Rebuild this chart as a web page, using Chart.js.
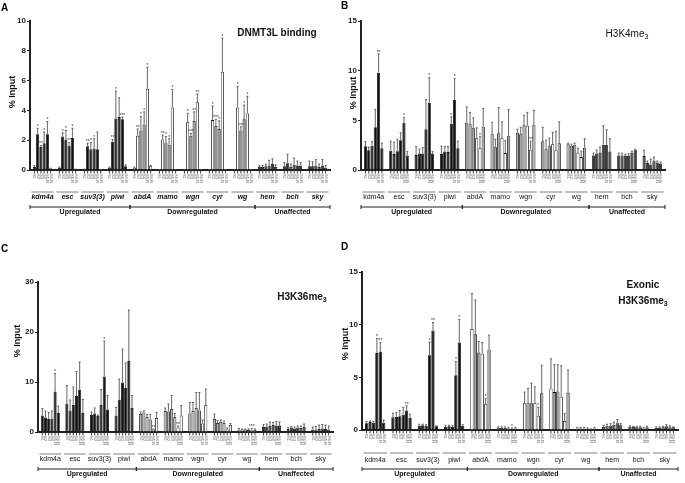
<!DOCTYPE html>
<html>
<head>
<meta charset="utf-8">
<script src="https://cdn.jsdelivr.net/npm/chart.js@4.4.1/dist/chart.umd.min.js"></script>
<style>
    html, body { margin: 0; padding: 0; background: #fff; }
    #wrap { position: relative; width: 685px; height: 483px; overflow: hidden; }
    .panel { position: absolute; }
</style>
</head>
<body>
<div id="wrap">
    <div class="panel" style="left:0;top:0;width:340px;height:240px"><canvas id="pA"></canvas></div>
    <div class="panel" style="left:340px;top:0;width:345px;height:240px"><canvas id="pB"></canvas></div>
    <div class="panel" style="left:0;top:240px;width:340px;height:243px"><canvas id="pC"></canvas></div>
    <div class="panel" style="left:340px;top:240px;width:345px;height:243px"><canvas id="pD"></canvas></div>
</div>
<script>
// -----------------------
// data
// -----------------------
const genes = ["kdm4a", "esc", "suv3(3)", "piwi", "abdA", "mamo", "wgn", "cyr", "wg", "hem", "bch", "sky"];
const sampleLabels = ["S1", "S2", "S3", "S4", "S5-R", "S6-R"];
const groupNames = ["Upregulated", "Downregulated", "Unaffected"];
const groupSpans = [[0, 3], [4, 8], [9, 11]];

// A: DNMT3L binding (mean, top of error bar)
const dnmt3lMean = [
    [0.2, 2.4, 1.55, 1.8, 2.4, 0.1], [0.15, 2.25, 2.05, 1.65, 2.15, 0.05],
    [0.05, 1.6, 1.4, 1.45, 1.4, 0.02], [0.15, 1.9, 3.45, 3.55, 3.4, 0.25],
    [0.15, 2.3, 2.65, 3.05, 5.45, 0.25], [0.02, 2.05, 1.85, 1.7, 4.2, 0.02],
    [0.02, 3.2, 2.3, 3.3, 4.55, 0.02], [0.02, 3.35, 2.95, 2.75, 6.6, 0.02],
    [0.02, 4.2, 2.65, 3.4, 3.8, 0.02], [0.2, 0.2, 0.25, 0.3, 0.4, 0.2],
    [0.25, 0.45, 0.2, 0.35, 0.3, 0.3], [0.25, 0.25, 0.3, 0.2, 0.3, 0.15],
];
const dnmt3lTop = [
    [0.3, 2.8, 1.65, 2.55, 3.25, 0.12], [0.2, 2.5, 2.65, 1.85, 2.8, 0.06],
    [0.06, 1.8, 1.85, 2.1, 2.55, 0.03], [0.2, 2.05, 5.3, 4.85, 3.55, 0.35],
    [0.2, 2.75, 3.6, 3.9, 6.9, 0.3], [0.03, 2.35, 2.25, 2.1, 5.4, 0.03],
    [0.03, 3.8, 2.45, 3.9, 5.1, 0.03], [0.03, 4.3, 3.4, 3.3, 8.85, 0.03],
    [0.03, 5.6, 2.9, 4.35, 4.95, 0.03], [0.3, 0.3, 0.4, 0.65, 0.75, 0.35],
    [0.5, 1.05, 0.4, 0.8, 0.6, 0.5], [0.6, 0.55, 0.7, 0.4, 0.7, 0.3],
];
const dnmt3lSig = [
    [0, 1, "*"], [0, 2, "**"], [0, 3, "*"], [0, 4, "*"],
    [1, 1, "*"], [1, 2, "*"], [1, 3, "**"], [1, 4, "*"],
    [2, 1, "**"], [2, 2, "*"], [2, 3, "*"],
    [3, 1, "**"], [3, 2, "*"], [3, 4, "***"],
    [4, 1, "**"], [4, 2, "*"], [4, 3, "*"], [4, 4, "*"],
    [5, 1, "**"], [5, 2, "*"], [5, 3, "*"], [5, 4, "*"],
    [6, 1, "*"], [6, 2, "***"], [6, 3, "**"], [6, 4, "**"],
    [7, 1, "*"], [7, 2, "***"], [7, 3, "*"], [7, 4, "*"],
    [8, 1, "*"], [8, 2, "***"], [8, 3, "*"], [8, 4, "*"],
];

// B: H3K4me3
const k4Mean = [
    [2.4, 2.0, 2.45, 4.3, 9.8, 2.2], [1.95, 1.6, 1.9, 3.0, 4.75, 1.45],
    [1.5, 1.65, 1.65, 4.1, 6.75, 1.65], [1.6, 1.85, 1.8, 4.65, 7.05, 2.2],
    [4.75, 4.6, 4.2, 3.2, 2.2, 4.35], [3.6, 2.3, 3.7, 3.2, 1.7, 3.4],
    [3.75, 3.6, 4.5, 4.45, 2.05, 4.55], [2.9, 2.1, 2.4, 2.6, 2.0, 2.7],
    [2.6, 2.45, 2.55, 1.75, 1.3, 2.25], [1.45, 1.65, 1.75, 2.55, 2.55, 1.85],
    [1.45, 1.45, 1.45, 1.45, 1.75, 2.05], [1.4, 0.7, 0.55, 0.95, 0.75, 0.65],
];
const k4Top = [
    [2.85, 2.3, 2.85, 6.1, 11.7, 2.7], [2.9, 2.8, 3.1, 3.75, 5.3, 1.85],
    [2.35, 2.1, 2.25, 7.1, 9.3, 1.85], [2.4, 2.35, 2.35, 5.35, 9.2, 2.9],
    [6.35, 5.8, 5.25, 4.25, 3.35, 6.2], [4.8, 3.1, 6.3, 4.85, 2.95, 6.1],
    [4.1, 4.3, 5.5, 5.8, 2.9, 6.0], [4.3, 3.0, 3.2, 3.8, 3.9, 4.85],
    [2.7, 2.6, 2.7, 2.2, 1.9, 3.15], [1.7, 2.0, 2.3, 4.45, 4.05, 3.15],
    [1.7, 1.7, 1.6, 1.65, 1.9, 2.1], [2.0, 0.9, 1.1, 1.3, 0.9, 0.8],
];
const k4Sig = [[0, 4, "**"], [1, 4, "*"], [2, 4, "*"], [3, 3, "*"], [3, 4, "*"], [4, 4, "*"], [6, 4, "***"]];

// C: H3K36me3
const k36Mean = [
    [3.3, 2.9, 2.6, 2.7, 8.1, 3.8], [5.7, 4.3, 5.4, 7.2, 8.5, 3.8],
    [3.4, 3.7, 3.2, 5.4, 11.1, 4.5], [3.3, 6.5, 9.9, 8.8, 14.2, 4.8],
    [3.6, 3.9, 3.0, 2.5, 0.5, 2.8], [4.2, 4.1, 4.6, 3.0, 0.9, 3.3],
    [3.7, 4.2, 4.8, 4.3, 1.7, 5.4], [2.6, 1.8, 2.0, 1.8, 0.5, 1.4],
    [0.5, 0.5, 0.5, 0.4, 0.3, 0.4], [1.0, 1.1, 1.2, 1.4, 1.3, 1.3],
    [0.6, 0.9, 0.7, 0.9, 0.8, 1.0], [0.5, 0.5, 0.6, 0.7, 0.6, 0.5],
];
const k36Top = [
    [4.7, 4.2, 3.9, 4.2, 11.7, 5.2], [9.3, 6.4, 9.0, 12.1, 14.0, 6.5],
    [4.0, 4.8, 3.4, 8.5, 18.2, 7.3], [4.9, 10.6, 16.6, 13.8, 24.4, 7.3],
    [4.0, 4.2, 3.5, 3.5, 0.6, 3.9], [4.8, 5.6, 7.3, 3.7, 1.2, 5.3],
    [5.9, 5.9, 7.9, 7.9, 2.4, 8.6], [3.6, 2.3, 2.4, 2.2, 0.8, 1.7],
    [0.7, 0.6, 0.6, 0.6, 0.7, 0.6], [1.5, 1.6, 2.0, 1.9, 2.1, 2.0],
    [0.9, 1.1, 1.0, 1.2, 1.2, 1.6], [1.0, 1.1, 1.4, 1.5, 1.4, 1.2],
];
const k36Sig = [[0, 4, "*"], [2, 4, "*"], [4, 4, "**"], [5, 4, "**"], [8, 4, "***"]];

// D: exonic H3K36me3
const exMean = [
    [0.65, 0.75, 0.7, 7.3, 7.45, 0.7], [1.2, 1.25, 1.3, 1.45, 1.85, 1.15],
    [0.4, 0.45, 0.4, 7.1, 9.45, 0.35], [0.3, 0.35, 0.3, 5.2, 8.3, 0.4],
    [9.6, 9.1, 7.35, 7.25, 2.45, 7.65], [0.2, 0.2, 0.2, 0.15, 0.05, 0.15],
    [2.55, 2.55, 2.55, 2.55, 1.35, 3.5], [3.95, 3.6, 3.65, 3.15, 0.85, 3.55],
    [0.15, 0.15, 0.15, 0.1, 0.05, 0.15], [0.3, 0.35, 0.4, 0.5, 0.65, 0.45],
    [0.3, 0.3, 0.25, 0.25, 0.15, 0.25], [0.2, 0.2, 0.25, 0.35, 0.25, 0.25],
];
const exTop = [
    [0.8, 0.85, 0.8, 8.7, 8.3, 0.95], [1.6, 1.65, 1.85, 2.15, 2.3, 1.5],
    [0.55, 0.55, 0.5, 8.35, 10.2, 0.4], [0.45, 0.45, 0.4, 6.5, 10.5, 0.5],
    [12.95, 12.35, 8.4, 8.3, 3.0, 9.0], [0.3, 0.3, 0.3, 0.25, 0.2, 0.25],
    [3.6, 3.95, 4.45, 4.1, 2.15, 6.15], [6.75, 6.2, 6.2, 6.1, 1.55, 5.7],
    [0.25, 0.25, 0.25, 0.2, 0.1, 0.25], [0.45, 0.55, 0.6, 0.75, 1.0, 0.6],
    [0.4, 0.35, 0.35, 0.35, 0.25, 0.35], [0.3, 0.3, 0.35, 0.5, 0.4, 0.3],
];
const exSig = [[0, 3, "*"], [0, 4, "**"], [1, 4, "**"], [2, 3, "*"], [2, 4, "**"], [3, 3, "*"], [3, 4, "*"], [4, 4, "*"], [5, 4, "*"], [6, 4, "*"]];

// -----------------------
// panel setup
// -----------------------
const panels = [
    {
        id: "pA", mean: dnmt3lMean, top: dnmt3lTop, sig: dnmt3lSig, max: 10, step: 2,
        w: 340, h: 240, axisX: 30, plotTop: 21, zero: 170, right: 330,
        off: [22, 27, 37, 42], italic: true,
        downFill: ["#fff", "#fff", "#8c8c8c", "#8c8c8c", "#fff", "#fff"], upFill: "#111", flatFill: "#333",
        title: [[["DNMT3L binding", 0]]], titleX: 277, titleY: [33], titleBold: true,
        letter: "A", letterPos: [1, 8], yTitlePos: [13, 92],
    },
    {
        id: "pB", mean: k4Mean, top: k4Top, sig: k4Sig, max: 15, step: 5,
        w: 345, h: 240, axisX: 21, plotTop: 21, zero: 170, right: 325,
        off: [22, 27, 37, 42], italic: false,
        downFill: ["#a8a8a8", "#a8a8a8", "#a8a8a8", "#fff", "#fff", "#a8a8a8"], upFill: "#111", flatFill: "#3c3c3c",
        title: [[["H3K4me", 0], ["3", 1]]], titleX: 287, titleY: [34], titleBold: false,
        letter: "B", letterPos: [1, 6], yTitlePos: [14, 93],
    },
    {
        id: "pC", mean: k36Mean, top: k36Top, sig: k36Sig, max: 30, step: 10,
        w: 340, h: 243, axisX: 38, plotTop: 42, zero: 192, right: 333,
        off: [22, 27, 37, 42], italic: false,
        downFill: ["#b8b8b8", "#b8b8b8", "#b8b8b8", "#b8b8b8", "#fff", "#fff"], upFill: "#111", flatFill: "#333",
        title: [[["H3K36me", 0], ["3", 1]]], titleX: 302, titleY: [57], titleBold: true,
        letter: "C", letterPos: [1, 9], yTitlePos: [18, 101],
    },
    {
        id: "pD", mean: exMean, top: exTop, sig: exSig, max: 15, step: 5,
        w: 345, h: 243, axisX: 22, plotTop: 32, zero: 190, right: 338,
        off: [23, 30, 39, 44], italic: false,
        downFill: ["#fff", "#a0a0a0", "#a0a0a0", "#fff", "#fff", "#a0a0a0"], upFill: "#111", flatFill: "#555",
        title: [[["Exonic", 0]], [["H3K36me", 0], ["3", 1]]], titleX: 303, titleY: [45, 61], titleBold: true,
        letter: "D", letterPos: [1, 7], yTitlePos: [6, 104],
    },
];

function fillFor(p, g, j) {
    if (g <= 3) return p.upFill;
    if (g >= 9) return p.flatFill;
    return p.downFill[j];
}

function makeDecor(p) {
    return {
        id: "decor_" + p.id,
        afterDatasetsDraw(chart) {
            const ctx = chart.ctx;
            const xs = chart.scales.x;
            const ys = chart.scales.y;
            const area = chart.chartArea;
            const zero = ys.getPixelForValue(0);
            const catW = (area.right - area.left) / genes.length;

            ctx.save();
            // error bars + per bar ticks + tiny sample labels
            for (let j = 0; j < sampleLabels.length; j++) {
                const meta = chart.getDatasetMeta(j);
                meta.data.forEach((bar, g) => {
                    const yTop = ys.getPixelForValue(p.top[g][j]);
                    ctx.strokeStyle = "#555";
                    ctx.lineWidth = 0.9;
                    ctx.beginPath();
                    ctx.moveTo(bar.x, bar.y);
                    ctx.lineTo(bar.x, yTop);
                    ctx.moveTo(bar.x - 1, yTop);
                    ctx.lineTo(bar.x + 1, yTop);
                    ctx.stroke();

                    ctx.strokeStyle = "#222";
                    ctx.beginPath();
                    ctx.moveTo(bar.x, zero + 1);
                    ctx.lineTo(bar.x, zero + 3.5);
                    ctx.stroke();

                    ctx.save();
                    ctx.translate(bar.x, zero + 4);
                    ctx.rotate(Math.PI / 2);
                    ctx.fillStyle = "#666";
                    ctx.font = "4px Arial";
                    ctx.textAlign = "left";
                    ctx.textBaseline = "middle";
                    ctx.fillText(sampleLabels[j], 0, 0);
                    ctx.restore();
                });
            }

            // significance marks
            ctx.fillStyle = "#333";
            ctx.font = "5px Arial";
            ctx.textAlign = "center";
            ctx.textBaseline = "bottom";
            p.sig.forEach(([g, j, mark]) => {
                const bar = chart.getDatasetMeta(j).data[g];
                ctx.fillText(mark, bar.x, ys.getPixelForValue(p.top[g][j]) + 1);
            });

            // gene labels
            genes.forEach((name, g) => {
                const cx = xs.getPixelForValue(g);
                ctx.strokeStyle = "#808080";
                ctx.lineWidth = 1;
                ctx.beginPath();
                ctx.moveTo(cx - catW / 2 + 1.5, zero + p.off[0]);
                ctx.lineTo(cx + catW / 2 - 1.5, zero + p.off[0]);
                ctx.stroke();
                ctx.fillStyle = "#111";
                ctx.font = p.italic ? "italic bold 7px Arial" : "7px Arial";
                ctx.textBaseline = "middle";
                ctx.fillText(name, cx, zero + p.off[1]);
            });

            // regulation brackets
            groupSpans.forEach(([a, b], k) => {
                const x0 = area.left + a * catW;
                const x1 = area.left + (b + 1) * catW;
                const yb = zero + p.off[2];
                ctx.strokeStyle = "#222";
                ctx.lineWidth = 1;
                ctx.beginPath();
                ctx.moveTo(x0, yb);
                ctx.lineTo(x1, yb);
                ctx.moveTo(x0, yb - 2);
                ctx.lineTo(x0, yb + 2);
                ctx.moveTo(x1, yb - 2);
                ctx.lineTo(x1, yb + 2);
                ctx.stroke();
                ctx.fillStyle = "#111";
                ctx.font = "bold 7px Arial";
                ctx.fillText(groupNames[k], (x0 + x1) / 2, zero + p.off[3]);
            });

            // y axis title
            ctx.save();
            ctx.translate(p.yTitlePos[0], p.yTitlePos[1]);
            ctx.rotate(-Math.PI / 2);
            ctx.font = "bold 9px Arial";
            ctx.fillStyle = "#111";
            ctx.textAlign = "center";
            ctx.textBaseline = "middle";
            ctx.fillText("% Input", 0, 0);
            ctx.restore();

            // panel title
            const w8 = p.titleBold ? "bold " : "";
            p.title.forEach((line, li) => {
                let total = 0;
                line.forEach(([t, sub]) => {
                    ctx.font = w8 + (sub ? "7px" : "10px") + " Arial";
                    total += ctx.measureText(t).width;
                });
                let x = p.titleX - total / 2;
                ctx.textAlign = "left";
                ctx.textBaseline = "middle";
                line.forEach(([t, sub]) => {
                    ctx.font = w8 + (sub ? "7px" : "10px") + " Arial";
                    ctx.fillText(t, x, p.titleY[li] + (sub ? 3 : 0));
                    x += ctx.measureText(t).width;
                });
            });

            // panel letter
            ctx.font = "bold 10px Arial";
            ctx.textAlign = "left";
            ctx.textBaseline = "middle";
            ctx.fillStyle = "#000";
            ctx.fillText(p.letter, p.letterPos[0], p.letterPos[1]);
            ctx.restore();
        },
    };
}

panels.forEach(p => {
    const datasets = sampleLabels.map((s, j) => ({
        label: s,
        data: p.mean.map(row => row[j]),
        backgroundColor: ctx => fillFor(p, ctx.dataIndex, j),
        borderColor: "#000",
        borderWidth: 0.8,
        categoryPercentage: 0.78,
        barPercentage: 0.95,
    }));

    new Chart(document.getElementById(p.id), {
        type: "bar",
        data: { labels: genes, datasets },
        options: {
            responsive: true,
            maintainAspectRatio: false,
            animation: false,
            layout: { padding: { left: 0, top: p.plotTop, right: p.w - p.right, bottom: 0 } },
            plugins: { legend: { display: false }, tooltip: { enabled: false } },
            scales: {
                x: {
                    ticks: { display: false },
                    grid: { display: false },
                    border: { display: true, color: "#222", width: 2 },
                    afterFit: s => { s.height = p.h - p.zero; },
                },
                y: {
                    min: 0,
                    max: p.max,
                    ticks: { stepSize: p.step, color: "#222", font: { size: 8, weight: "bold", family: "Arial" }, padding: 1 },
                    grid: { drawOnChartArea: false, drawTicks: true, tickLength: 3, color: "#222", lineWidth: 1 },
                    border: { display: true, color: "#222", width: 2 },
                    afterFit: s => { s.width = p.axisX; },
                },
            },
        },
        plugins: [makeDecor(p)],
    });
});
</script>
</body>
</html>
